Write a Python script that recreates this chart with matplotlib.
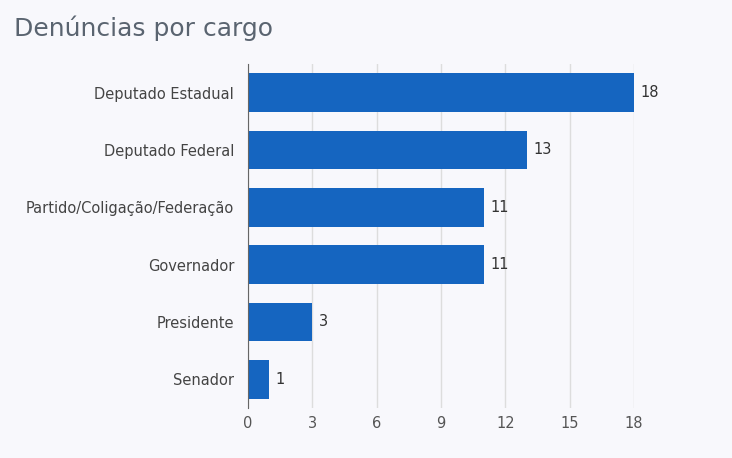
import matplotlib.pyplot as plt

cargos = ["Deputado Estadual", "Deputado Federal", "Partido/Coligação/Federação",
          "Governador", "Presidente", "Senador"]
valores = [18, 13, 11, 11, 3, 1]
ticks = [0, 3, 6, 9, 12, 15, 18]

bg = "#f8f8fc"
fig = plt.figure(figsize=(7.32, 4.58), dpi=100, facecolor=bg)
ax = fig.add_axes([248/732, 1 - 408/458, (634 - 248)/732, (408 - 64)/458], facecolor=bg)

y = list(range(len(cargos)))
ax.barh(y, valores, height=0.68, color="#1565c0", zorder=3)
for yi, v in zip(y, valores):
    ax.text(v + 0.3, yi, str(v), va="center", ha="left", fontsize=10.5, color="#333333")

ax.set_yticks(y)
ax.set_yticklabels(cargos, fontsize=10.5, color="#444444")
ax.invert_yaxis()
ax.set_ylim(5.5, -0.5)
ax.set_xlim(0, 18)
ax.set_xticks(ticks)
ax.set_xticklabels([str(t) for t in ticks], fontsize=10.5, color="#555555")
ax.tick_params(axis="y", length=0, pad=10)
ax.tick_params(axis="x", length=0, pad=6)
ax.grid(axis="x", color="#dddddd", linewidth=1, zorder=0)
for s in ["top", "right", "bottom"]:
    ax.spines[s].set_visible(False)
ax.spines["left"].set_color("#666666")
ax.spines["left"].set_zorder(4)

fig.text(14/732, 1 - 28/458, "Denúncias por cargo", fontsize=18, color="#5a6470",
         va="center", ha="left")

fig.savefig("out.png", dpi=100, facecolor=bg)
